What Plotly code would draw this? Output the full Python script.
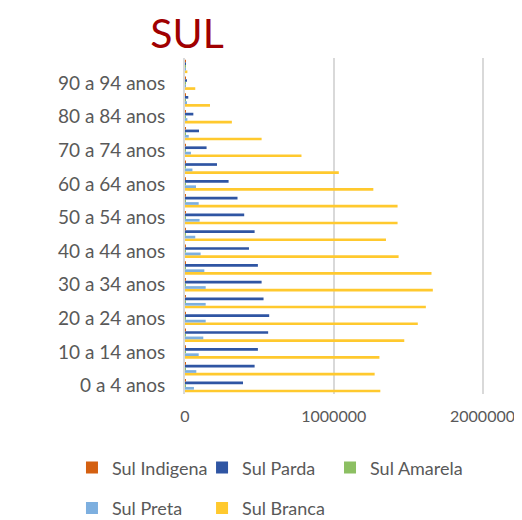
import plotly.graph_objects as go

ages = [
    "0 a 4 anos", "5 a 9 anos", "10 a 14 anos", "15 a 19 anos", "20 a 24 anos",
    "25 a 29 anos", "30 a 34 anos", "35 a 39 anos", "40 a 44 anos", "45 a 49 anos",
    "50 a 54 anos", "55 a 59 anos", "60 a 64 anos", "65 a 69 anos", "70 a 74 anos",
    "75 a 79 anos", "80 a 84 anos", "85 a 89 anos", "90 a 94 anos", "95 a 99 anos",
]

indigena = [5000, 5000, 5000, 5000, 5000, 5000, 4500, 4000, 3500, 3000,
            2500, 2000, 1500, 1200, 900, 600, 400, 200, 100, 50]
parda = [390000, 468000, 490000, 559000, 566000, 528000, 515000, 490000, 430000, 468000,
         398000, 353000, 293000, 215000, 145000, 94000, 56000, 22000, 8000, 2000]
amarela = [4000, 4000, 4500, 5000, 6000, 6500, 6000, 5500, 5000, 4500,
           4500, 4000, 3500, 3000, 2500, 2000, 1200, 600, 200, 50]
preta = [60000, 76000, 92000, 123000, 139000, 139000, 139000, 130000, 105000, 69000,
         98000, 92000, 74000, 50000, 40000, 25000, 16000, 8000, 3000, 1000]
branca = [1313000, 1275000, 1307000, 1474000, 1565000, 1619000, 1666000, 1657000, 1436000, 1351000,
          1429000, 1429000, 1266000, 1034000, 783000, 515000, 315000, 168000, 69000, 16000]

# name, values, colour, legend slot (x, y in paper coords)
series = [
    ("Sul Indigena", indigena, "#D46011", (-0.378, -0.22)),
    ("Sul Parda", parda, "#2F55A3", (0.057, -0.22)),
    ("Sul Amarela", amarela, "#8CBF62", (0.485, -0.22)),
    ("Sul Preta", preta, "#7DAFDF", (-0.378, -0.34)),
    ("Sul Branca", branca, "#FFC92E", (0.057, -0.34)),
]

fig = go.Figure()
legends = {}
# plotly puts the first horizontal trace at the bottom, so add them reversed
for i, (name, vals, color, pos) in reversed(list(enumerate(series))):
    key = "legend" if i == 0 else f"legend{i + 1}"
    legends[key] = dict(x=pos[0], y=pos[1], xanchor="left", yanchor="middle",
                        orientation="h", font=dict(size=18, color="#595959"),
                        itemwidth=30, bgcolor="rgba(0,0,0,0)")
    fig.add_trace(go.Bar(y=ages, x=vals, name=name, orientation="h", legend=key,
                         marker=dict(color=color, line=dict(width=0))))

fig.update_layout(
    width=522,
    height=520,
    barmode="group",
    bargap=0.2,
    bargroupgap=0,
    plot_bgcolor="white",
    paper_bgcolor="white",
    font=dict(family="Lato, 'Open Sans', sans-serif", color="#595959"),
    margin=dict(l=177, r=46, t=50, b=134, autoexpand=False),
    title=dict(text="SUL", font=dict(size=41, color="#A00000"),
               xref="container", x=0.343, xanchor="center",
               yref="container", y=0.95, yanchor="middle"),
    showlegend=True,
    **legends,
)

fig.update_xaxes(range=[0, 2010000], tickvals=[0, 1000000, 2000000],
                 ticktext=["0", "1000000", "2000000"],
                 showgrid=True, gridcolor="#D9D9D9", gridwidth=2,
                 zeroline=False, showline=False, ticks="",
                 tickfont=dict(size=16), ticklabelstandoff=11)
fig.update_yaxes(categoryorder="array", categoryarray=ages,
                 tickvals=ages[::2], ticks="", showgrid=False,
                 showline=True, linecolor="#D9D9D9", linewidth=2,
                 tickfont=dict(size=19), ticklabelstandoff=14)

fig.write_html("out.html")
